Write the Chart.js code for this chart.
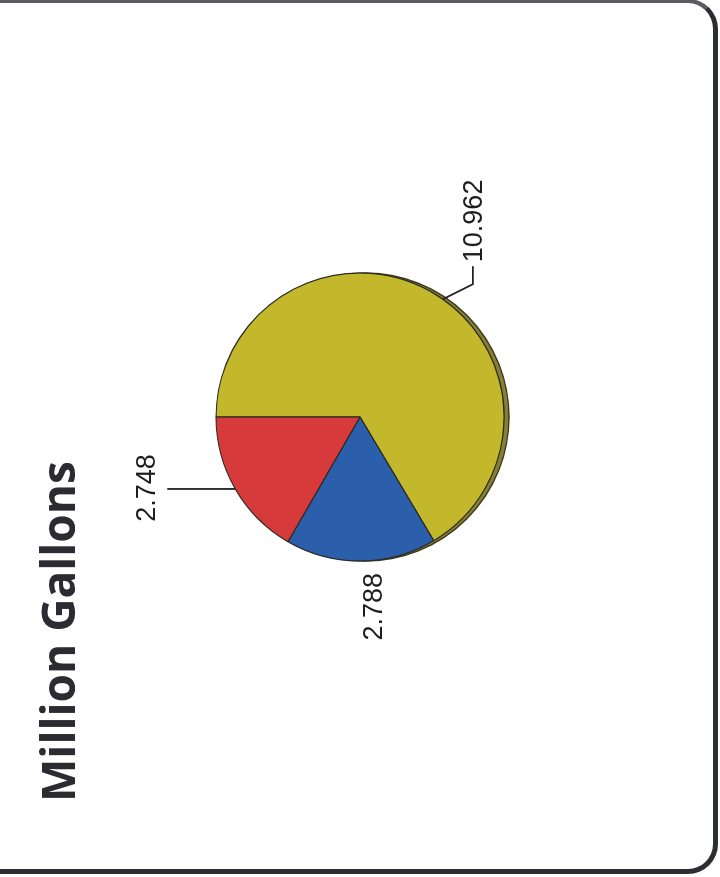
<!DOCTYPE html>
<html>
<head>
<meta charset="utf-8">
<script src="https://cdn.jsdelivr.net/npm/chart.js@4.4.1/dist/chart.umd.min.js"></script>
<style>
  html, body { margin: 0; padding: 0; background: #fff; }
  body { width: 720px; height: 877px; position: relative; overflow: hidden; }
  #frame {
    position: absolute; left: -40px; top: -1px; width: 758px; height: 875px;
    box-sizing: border-box; border: 5px solid #2d2d34; border-top: 4px solid #5c5c60;
    border-radius: 30px;
  }
  /* the chart is laid out landscape and turned a quarter to the left */
  #turn {
    position: absolute; left: 0; top: 0; width: 877px; height: 720px;
    transform-origin: 0 0; transform: translateY(877px) rotate(-90deg);
  }
</style>
</head>
<body>
<div id="frame"></div>
<div id="turn"><canvas id="gallonsChart" width="877" height="720"></canvas></div>
<script>
const chartTitle = 'Million Gallons';
const sliceNames = ['A', 'B', 'C'];
const sliceValues = [10.962, 2.788, 2.748];
const sliceColors = ['#c3b72b', '#2b5fab', '#d63a3b'];

// where each value label sits, relative to a point on the slice's rim
// at: fraction along the slice, path: leader line offsets, text: label offset
const labelPlacement = [
  { at: 0.523, path: [[15, 30], [33, 30]], text: [37, 39], align: 'left' },
  { at: 0.5, path: [], text: [-12, 21], align: 'right' },
  { at: 0.5, path: [[0, -68]], text: [1, -80], align: 'center' }
];

const titlePlugin = {
  id: 'titlePlugin',
  afterDraw(chart) {
    const ctx = chart.ctx;
    ctx.save();
    ctx.font = 'bold 46px "Open Sans", Lato, sans-serif';
    ctx.fillStyle = '#2b2b31';
    ctx.textAlign = 'left';
    ctx.textBaseline = 'alphabetic';
    ctx.fillText(chartTitle, 75, 75);
    ctx.restore();
  }
};

// flat dark rim under the pie, offset downward
const pieShadow = {
  id: 'pieShadow',
  beforeDatasetsDraw(chart) {
    const arc = chart.getDatasetMeta(0).data[0];
    if (!arc) return;
    const { x, y, outerRadius } = arc.getProps(['x', 'y', 'outerRadius'], true);
    const ctx = chart.ctx;
    ctx.save();
    ctx.beginPath();
    ctx.arc(x, y + 5, outerRadius, 0, Math.PI * 2);
    ctx.fillStyle = '#878034';
    ctx.fill();
    ctx.lineWidth = 1.5;
    ctx.strokeStyle = '#3c3a1e';
    ctx.stroke();
    ctx.restore();
  }
};

const leaderLabels = {
  id: 'leaderLabels',
  afterDatasetsDraw(chart) {
    const ctx = chart.ctx;
    const meta = chart.getDatasetMeta(0);
    ctx.save();
    ctx.strokeStyle = '#222';
    ctx.lineWidth = 1.8;
    ctx.fillStyle = '#1e1e1e';
    ctx.font = '27px "Liberation Sans", Arial, sans-serif';
    ctx.textBaseline = 'alphabetic';
    meta.data.forEach((arc, i) => {
      const p = arc.getProps(['x', 'y', 'startAngle', 'endAngle', 'outerRadius'], true);
      const place = labelPlacement[i];
      const a = p.startAngle + (p.endAngle - p.startAngle) * place.at;
      const ex = p.x + Math.cos(a) * p.outerRadius;
      const ey = p.y + Math.sin(a) * p.outerRadius;
      if (place.path.length) {
        ctx.beginPath();
        ctx.moveTo(ex, ey);
        place.path.forEach(([dx, dy]) => ctx.lineTo(ex + dx, ey + dy));
        ctx.stroke();
      }
      ctx.textAlign = place.align;
      ctx.fillText(sliceValues[i].toFixed(3), ex + place.text[0], ey + place.text[1]);
    });
    ctx.restore();
  }
};

const ctx = document.getElementById('gallonsChart').getContext('2d');
new Chart(ctx, {
  type: 'pie',
  data: {
    labels: sliceNames,
    datasets: [{
      data: sliceValues,
      backgroundColor: sliceColors,
      borderColor: '#2a2a22',
      borderWidth: 1.2
    }]
  },
  options: {
    responsive: false,
    animation: false,
    devicePixelRatio: 1,
    events: [],
    radius: 144,
    layout: { padding: { left: 320, right: 277, top: 220, bottom: 220 } },
    plugins: { legend: { display: false }, tooltip: { enabled: false }, title: { display: false } }
  },
  plugins: [pieShadow, leaderLabels, titlePlugin]
});
</script>
</body>
</html>
